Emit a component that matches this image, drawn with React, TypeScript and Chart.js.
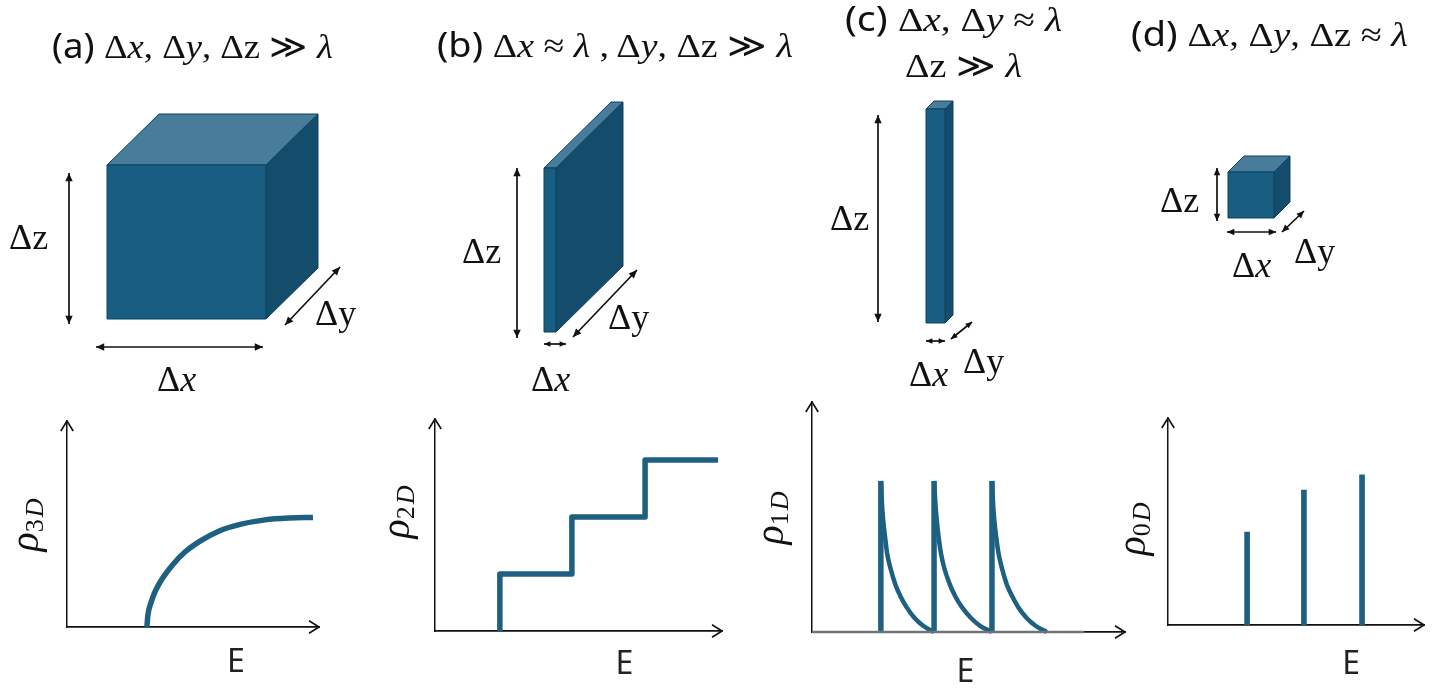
import React, { useEffect, useRef } from "react";
import { Chart, registerables } from "chart.js";

Chart.register(...registerables);

// ---- data (axes run 0..100 in both directions) ----
const rho3dEnergy = [31.7, 32.1, 33.3, 34.9, 37.7, 41.7, 46.8, 52.8, 60, 68.7, 78.6, 88.5, 97.6];
const rho3dValues = [0, 5.8, 11.7, 17, 23.3, 29.9, 36.4, 41.7, 46.4, 49.8, 52, 52.9, 53.2];

const rho2dEnergy = [22.6, 22.6, 47.7, 47.7, 73.2, 73.2, 98.6];
const rho2dValues = [0, 26.9, 26.9, 53.8, 53.8, 80.7, 80.7];

const rho1dSpikeA = [22, 22];
const rho1dSpikeB = [39, 39];
const rho1dSpikeC = [57.5, 57.5];
const rho1dSpikeValues = [0, 65.7];
const rho1dEnergyA = [22, 22.5, 23.4, 24, 25.1, 26.6, 28.3, 30.2, 32.7, 35.6, 39];
const rho1dEnergyB = [39, 39.6, 40.5, 41.2, 42.3, 44, 45.8, 47.9, 50.7, 53.8, 57.5];
const rho1dEnergyC = [57.5, 58, 58.9, 59.6, 60.7, 62.2, 64, 65.9, 68.5, 71.5, 75];
const rho1dValues = [65.7, 52.6, 40.7, 34.2, 27.6, 20.8, 15.4, 10.8, 6.2, 2.6, 0];
const rho1dBaseEnergy = [0, 87];
const rho1dBaseValues = [0, 0];

const rho0dEnergy = [30.9, 53.1, 75.8];
const rho0dValues = [44.9, 65.2, 72.5];

const LINE = "#1e6081";
const zip = (xs: number[], ys: number[]) => xs.map((x, i) => ({ x, y: ys[i] }));

const lineSet = (xs: number[], ys: number[], width: number, color = LINE, smooth = false) => ({
  data: zip(xs, ys),
  borderColor: color,
  borderWidth: width,
  pointRadius: 0,
  tension: 0,
  cubicInterpolationMode: smooth ? ("monotone" as const) : ("default" as const),
  fill: false,
  borderJoinStyle: "round" as const,
  borderCapStyle: "butt" as const,
  clip: false as const,
});

const panels = [
  {
    key: "a", ox: 67, oy: 627, w: 252, h: 206, ePos: 67, ePad: 17, type: "line",
    datasets: [lineSet(rho3dEnergy, rho3dValues, 5.5, LINE, true)],
  },
  {
    key: "b", ox: 435, oy: 631, w: 287, h: 212, ePos: 66, ePad: 15, type: "line",
    datasets: [lineSet(rho2dEnergy, rho2dValues, 5.5)],
  },
  {
    key: "c", ox: 812, oy: 632, w: 313, h: 230, ePos: 49, ePad: 22, type: "line",
    datasets: [
      lineSet(rho1dBaseEnergy, rho1dBaseValues, 2.5, "#6f7477"),
      lineSet(rho1dSpikeA, rho1dSpikeValues, 5.5),
      lineSet(rho1dSpikeB, rho1dSpikeValues, 5.5),
      lineSet(rho1dSpikeC, rho1dSpikeValues, 5.5),
      lineSet(rho1dEnergyA, rho1dValues, 4.5, LINE, true),
      lineSet(rho1dEnergyB, rho1dValues, 4.5, LINE, true),
      lineSet(rho1dEnergyC, rho1dValues, 4.5, LINE, true),
    ],
  },
  {
    key: "d", ox: 1168, oy: 625, w: 256, h: 207, ePos: 71.5, ePad: 21, type: "bar",
    datasets: [
      { data: zip(rho0dEnergy, rho0dValues), backgroundColor: LINE, barThickness: 5 },
    ],
  },
];

const PAD = 14;
const AXIS_H = 66;

const arrowHeads = {
  id: "arrowHeads",
  afterDraw(chart: any) {
    const { ctx, chartArea: a } = chart;
    const s = 10;
    ctx.save();
    ctx.strokeStyle = "#111";
    ctx.lineWidth = 1.6;
    ctx.lineJoin = "round";
    ctx.beginPath();
    ctx.moveTo(a.left - s * 0.62, a.top + s);
    ctx.lineTo(a.left, a.top);
    ctx.lineTo(a.left + s * 0.62, a.top + s);
    ctx.moveTo(a.right - s, a.bottom - s * 0.62);
    ctx.lineTo(a.right, a.bottom);
    ctx.lineTo(a.right - s, a.bottom + s * 0.62);
    ctx.stroke();
    ctx.restore();
  },
};

const FRONT = "#175e82";
const TOP = "#487c9b";
const SIDE = "#144d6c";
const EDGE = "#0f425e";

const boxes = [
  { x: 107, y: 165, w: 159, h: 154, dx: 52, dy: 51 },
  { x: 544, y: 168, w: 12, h: 164, dx: 67, dy: 66 },
  { x: 926, y: 109, w: 19, h: 214, dx: 8, dy: 8 },
  { x: 1228, y: 172, w: 46, h: 46, dx: 16, dy: 16 },
];

const arrows = [
  [69, 173, 69, 324, 9], [96, 347, 263, 347, 9], [285, 325, 340, 267, 9],
  [517, 168, 517, 338, 9], [544, 344, 566, 344, 7], [573, 337, 637, 270, 9],
  [878, 115, 878, 322, 9], [926, 341, 945, 341, 7], [951, 339, 972, 322, 7],
  [1217, 168, 1217, 221, 8], [1227, 232, 1276, 232, 8], [1282, 232, 1304, 211, 8],
];

type Part = [string, "s" | "i" | "r"];

function Rich({ x, y, size, parts, anchor = "start", width }: { x: number; y: number; size: number; parts: Part[]; anchor?: string; width?: number }) {
  return (
    <text x={x} y={y} fontSize={size} textAnchor={anchor as any} fill="#111" textLength={width} lengthAdjust={width ? "spacingAndGlyphs" : undefined}>
      {parts.map(([t, k], i) => (
        <tspan
          key={i}
          fontFamily={k === "s" ? "'Noto Sans', sans-serif" : "'Liberation Serif', 'DejaVu Serif', serif"}
          fontStyle={k === "i" ? "italic" : "normal"}
        >
          {t}
        </tspan>
      ))}
    </text>
  );
}

const titles: { x: number; y: number; width: number; parts: Part[] }[] = [
  { x: 52, y: 58, width: 281, parts: [["(a) ", "s"], ["Δ", "r"], ["x", "i"], [", Δ", "r"], ["y", "i"], [", Δz ≫ ", "r"], ["λ", "i"]] },
  { x: 437, y: 57, width: 356, parts: [["(b) ", "s"], ["Δ", "r"], ["x", "i"], [" ≈ ", "r"], ["λ", "i"], [" , Δ", "r"], ["y", "i"], [", Δz ≫ ", "r"], ["λ", "i"]] },
  { x: 845, y: 31, width: 217, parts: [["(c) ", "s"], ["Δ", "r"], ["x", "i"], [", Δ", "r"], ["y", "i"], [" ≈ ", "r"], ["λ", "i"]] },
  { x: 905, y: 77, width: 117, parts: [["Δz ≫ ", "r"], ["λ", "i"]] },
  { x: 1131, y: 46, width: 277, parts: [["(d) ", "s"], ["Δ", "r"], ["x", "i"], [", Δ", "r"], ["y", "i"], [", Δz ≈ ", "r"], ["λ", "i"]] },
];

const sizeLabels: { x: number; y: number; parts: Part[] }[] = [
  { x: 9, y: 249, parts: [["Δz", "r"]] },
  { x: 157, y: 391, parts: [["Δ", "r"], ["x", "i"]] },
  { x: 315, y: 325, parts: [["Δy", "r"]] },
  { x: 462, y: 263, parts: [["Δz", "r"]] },
  { x: 531, y: 391, parts: [["Δ", "r"], ["x", "i"]] },
  { x: 608, y: 329, parts: [["Δy", "r"]] },
  { x: 830, y: 230, parts: [["Δz", "r"]] },
  { x: 909, y: 386, parts: [["Δ", "r"], ["x", "i"]] },
  { x: 963, y: 373, parts: [["Δy", "r"]] },
  { x: 1160, y: 212, parts: [["Δz", "r"]] },
  { x: 1232, y: 277, parts: [["Δ", "r"], ["x", "i"]] },
  { x: 1294, y: 263, parts: [["Δy", "r"]] },
];

const rhoLabels = [
  { x: 38, y: 525, sub: "3", d: "D" },
  { x: 409, y: 512, sub: "2", d: "D" },
  { x: 783, y: 518, sub: "1", d: "D" },
  { x: 1145, y: 529, sub: "0", d: "D" },
];

function Head({ x, y, ang, s }: { x: number; y: number; ang: number; s: number }) {
  const a1 = ang + Math.PI - 0.42;
  const a2 = ang + Math.PI + 0.42;
  return (
    <polygon
      points={`${x},${y} ${x + s * Math.cos(a1)},${y + s * Math.sin(a1)} ${x + s * Math.cos(a2)},${y + s * Math.sin(a2)}`}
      fill="#111"
    />
  );
}

export default function App() {
  const refs = useRef<(HTMLCanvasElement | null)[]>([]);

  useEffect(() => {
    const charts = panels.map((p, i) => {
      const canvas = refs.current[i] as HTMLCanvasElement;
      return new Chart(canvas, {
        type: p.type as any,
        data: { datasets: p.datasets as any },
        plugins: [arrowHeads],
        options: {
          animation: false,
          responsive: false,
          maintainAspectRatio: false,
          layout: { padding: { left: PAD, right: PAD, top: PAD, bottom: 0 } },
          plugins: { legend: { display: false }, tooltip: { enabled: false }, title: { display: false } },
          scales: {
            x: {
              type: "linear",
              min: 0,
              max: 100,
              offset: false,
              grid: { display: false, drawTicks: false },
              border: { display: true, color: "#111", width: 1.8 },
              afterBuildTicks: (s: any) => {
                s.ticks = [{ value: p.ePos }];
              },
              afterFit: (s: any) => {
                s.height = AXIS_H;
              },
              ticks: {
                callback: () => "E",
                color: "#222",
                font: { family: "'Noto Sans', sans-serif", size: 32 },
                padding: p.ePad,
                maxRotation: 0,
                autoSkip: false,
              },
            },
            y: {
              type: "linear",
              min: 0,
              max: 100,
              grid: { display: false, drawTicks: false },
              border: { display: true, color: "#111", width: 1.5 },
              ticks: { display: false },
              afterFit: (s: any) => {
                s.width = 0;
              },
            },
          },
        } as any,
      });
    });
    return () => charts.forEach((c) => c.destroy());
  }, []);

  return (
    <div style={{ position: "absolute", left: 0, top: 0, width: 1435, height: 692, overflow: "hidden", background: "#fff" }}>
      {panels.map((p, i) => (
        <canvas
          key={p.key}
          ref={(el) => {
            refs.current[i] = el;
          }}
          width={p.w + PAD * 2}
          height={p.h + PAD + AXIS_H}
          style={{ position: "absolute", left: p.ox - PAD, top: p.oy - p.h - PAD, width: p.w + PAD * 2, height: p.h + PAD + AXIS_H }}
        />
      ))}
      <svg width={1435} height={692} style={{ position: "absolute", left: 0, top: 0, pointerEvents: "none" }}>
        {boxes.map((b, i) => (
          <g key={i} stroke={EDGE} strokeWidth={1} strokeLinejoin="round">
            <polygon fill={TOP} points={`${b.x},${b.y} ${b.x + b.dx},${b.y - b.dy} ${b.x + b.w + b.dx},${b.y - b.dy} ${b.x + b.w},${b.y}`} />
            <polygon fill={SIDE} points={`${b.x + b.w},${b.y} ${b.x + b.w + b.dx},${b.y - b.dy} ${b.x + b.w + b.dx},${b.y + b.h - b.dy} ${b.x + b.w},${b.y + b.h}`} />
            <rect fill={FRONT} x={b.x} y={b.y} width={b.w} height={b.h} />
          </g>
        ))}
        {arrows.map(([x1, y1, x2, y2, s], i) => {
          const ang = Math.atan2(y2 - y1, x2 - x1);
          return (
            <g key={i}>
              <line x1={x1} y1={y1} x2={x2} y2={y2} stroke="#111" strokeWidth={1.7} />
              <Head x={x2} y={y2} ang={ang} s={s} />
              <Head x={x1} y={y1} ang={ang + Math.PI} s={s} />
            </g>
          );
        })}
        {titles.map((t, i) => (
          <Rich key={i} x={t.x} y={t.y} size={34} width={t.width} parts={t.parts} />
        ))}
        {sizeLabels.map((t, i) => (
          <Rich key={i} x={t.x} y={t.y} size={36} parts={t.parts} />
        ))}
        {rhoLabels.map((r, i) => (
          <g key={i} transform={`translate(${r.x},${r.y}) rotate(-90)`}>
            <text textAnchor="middle" fill="#111" fontFamily="'Liberation Serif', serif" fontSize={40}>
              <tspan fontStyle="italic">ρ</tspan>
              <tspan fontSize={26} dy={5} letterSpacing={2}>{r.sub}</tspan>
              <tspan fontSize={26} fontStyle="italic">{r.d}</tspan>
            </text>
          </g>
        ))}
      </svg>
    </div>
  );
}
